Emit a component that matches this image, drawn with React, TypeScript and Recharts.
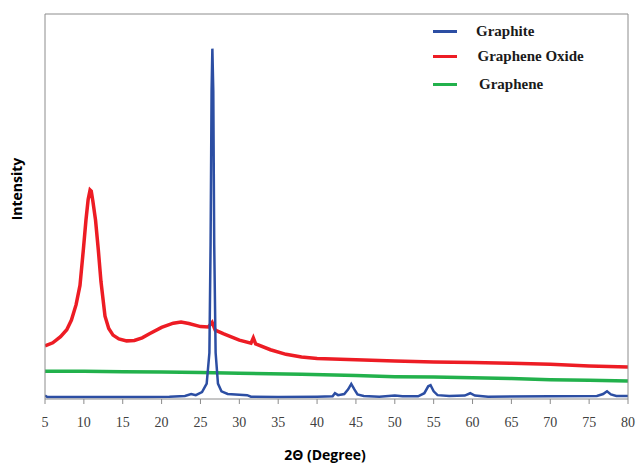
import React from 'react';
import { ComposedChart, Line, XAxis, YAxis } from 'recharts';

const xTicks = [5, 10, 15, 20, 25, 30, 35, 40, 45, 50, 55, 60, 65, 70, 75, 80];

const seriesNames = ['Graphite', 'Graphene Oxide', 'Graphene'];
const seriesColors = ['#2c4ea3', '#ed1c24', '#22b14c'];

// [2θ, intensity (a.u., 0-100)]
const graphitePoints: [number, number][] = [
  [5, 0.9], [5.3, 0.5], [8, 0.5], [12, 0.5], [18, 0.5], [21, 0.6], [23, 0.8], [23.8, 1.3], [24.4, 1.0],
  [25.2, 1.8], [25.8, 4], [26.15, 12], [26.3, 40], [26.43, 80], [26.53, 91], [26.65, 80], [26.77, 40],
  [26.95, 12], [27.25, 4], [27.7, 2.0], [28.5, 1.3], [30, 1.1], [31, 1.0], [31.5, 0.6], [35, 0.5],
  [40, 0.6], [42, 0.7], [42.3, 1.5], [42.7, 1.0], [43.5, 1.3], [44.0, 2.5], [44.4, 3.9], [44.8, 2.5],
  [45.2, 1.2], [46, 0.8], [48, 0.6], [50, 0.9], [51, 0.7], [53, 0.7], [53.8, 1.5], [54.3, 3.3],
  [54.6, 3.6], [55, 2.0], [55.5, 1.0], [57, 0.8], [59, 0.9], [59.7, 1.5], [60.3, 0.9], [62, 0.6],
  [70, 0.7], [76, 0.8], [76.8, 1.3], [77.3, 2.0], [77.8, 1.2], [78.5, 0.8], [80, 0.8],
];

const grapheneOxidePoints: [number, number][] = [
  [5, 13.8], [6, 14.6], [7, 16.2], [7.8, 18.0], [8.4, 20.5], [9.0, 24.5], [9.5, 29.5], [9.93, 38.7],
  [10.27, 46.5], [10.55, 51.8], [10.8, 54.3], [10.95, 54.0], [11.15, 51.5], [11.5, 46.5], [11.86, 38.7],
  [12.2, 30.5], [12.72, 21.5], [13.2, 18.3], [13.75, 16.6], [14.5, 15.6], [15.5, 15.1], [16.5, 15.2],
  [17.5, 15.9], [18.5, 17.0], [20, 18.6], [21.5, 19.7], [22.5, 20.0], [23.5, 19.6], [25, 18.8],
  [26, 18.7], [26.5, 19.9], [26.9, 17.9], [28, 16.9], [30, 15.3], [31.5, 14.5], [31.8, 15.9],
  [32.1, 14.3], [34, 12.8], [36, 11.6], [38, 10.9], [40, 10.5], [45, 10.2], [50, 9.9], [55, 9.6],
  [60, 9.5], [65, 9.3], [70, 9.0], [75, 8.6], [80, 8.3],
];

const graphenePoints: [number, number][] = [
  [5, 7.2], [10, 7.2], [15, 7.1], [20, 7.0], [25, 6.9], [30, 6.7], [38, 6.4], [45, 6.1], [50, 5.8],
  [55, 5.7], [60, 5.5], [65, 5.3], [70, 5.0], [75, 4.9], [80, 4.7],
];

const toData = (pts: [number, number][]) => pts.map(([x, y]) => ({ x, y }));
const seriesData = [toData(graphitePoints), toData(grapheneOxidePoints), toData(graphenePoints)];
const legendY = [31, 56, 84];
const drawOrder = [2, 1, 0];
const frame = '#8c8c8c';

export default function App() {
  return (
    <div style={{ position: 'absolute', left: 0, top: 0, width: 639, height: 464, background: '#fff' }}>
      <ComposedChart width={639} height={464} margin={{ top: 13, right: 10, left: 44, bottom: 0 }}>
        <XAxis
          type="number"
          dataKey="x"
          domain={[5, 80]}
          ticks={xTicks}
          allowDataOverflow
          height={65}
          tickSize={5}
          tickMargin={13}
          axisLine={{ stroke: frame }}
          tickLine={{ stroke: frame }}
          tick={{ fontFamily: '"Liberation Serif", serif', fontSize: 14, fill: '#404040' }}
        />
        <XAxis
          xAxisId="top"
          orientation="top"
          type="number"
          dataKey="x"
          domain={[5, 80]}
          height={1}
          tick={false}
          tickLine={false}
          axisLine={{ stroke: frame }}
        />
        <YAxis type="number" domain={[0, 100]} width={1} tick={false} tickLine={false} axisLine={{ stroke: frame }} allowDataOverflow />
        <YAxis
          yAxisId="right"
          orientation="right"
          type="number"
          domain={[0, 100]}
          width={1}
          tick={false}
          tickLine={false}
          axisLine={{ stroke: frame }}
        />
        {drawOrder.map((i) => (
          <Line
            key={seriesNames[i]}
            data={seriesData[i]}
            dataKey="y"
            type="linear"
            stroke={seriesColors[i]}
            strokeWidth={i === 0 ? 2.5 : 3.5}
            dot={false}
            activeDot={false}
            isAnimationActive={false}
          />
        ))}
      </ComposedChart>
      {seriesNames.map((name, i) => (
        <React.Fragment key={name}>
          <div style={{ position: 'absolute', left: 433, top: legendY[i] - 1.5, width: 24, height: 3, background: seriesColors[i] }} />
          <div
            style={{
              position: 'absolute',
              left: 476 + i * 1.5,
              top: legendY[i] - 10,
              height: 20,
              lineHeight: '20px',
              fontFamily: '"Liberation Serif", serif',
              fontWeight: 'bold',
              fontSize: 15,
              color: '#1a1a1a',
              whiteSpace: 'nowrap',
            }}
          >
            {name}
          </div>
        </React.Fragment>
      ))}
      <div
        style={{
          position: 'absolute',
          left: 225,
          top: 445,
          width: 200,
          height: 20,
          lineHeight: '20px',
          textAlign: 'center',
          fontFamily: '"Open Sans", sans-serif',
          fontWeight: 'bold',
          fontSize: 14,
          color: '#000',
        }}
      >
        2Θ (Degree)
      </div>
      <div
        style={{
          position: 'absolute',
          left: -33,
          top: 179,
          width: 100,
          height: 20,
          lineHeight: '20px',
          textAlign: 'center',
          transform: 'rotate(-90deg)',
          fontFamily: '"Open Sans", sans-serif',
          fontWeight: 'bold',
          fontSize: 14,
          color: '#000',
        }}
      >
        Intensity
      </div>
    </div>
  );
}
